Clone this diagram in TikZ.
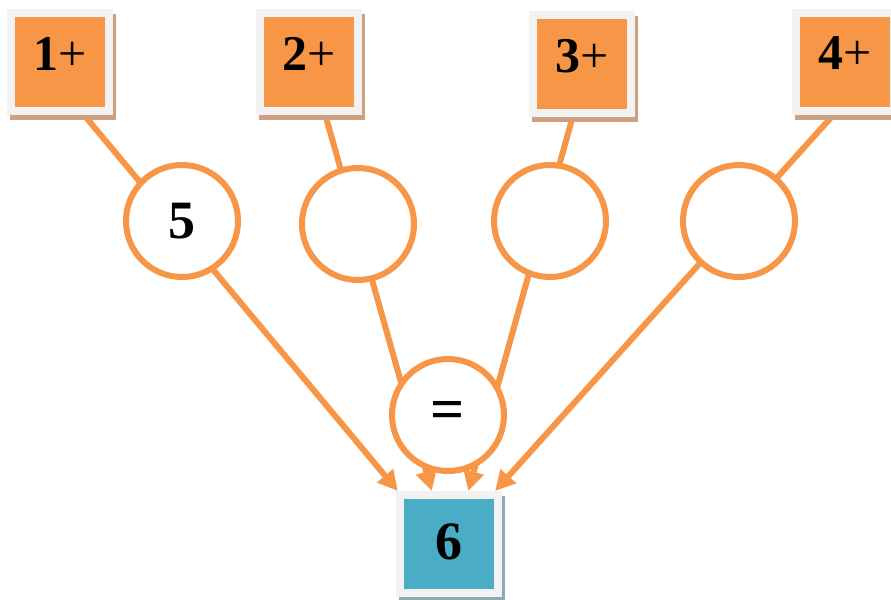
\documentclass[tikz,border=0pt]{standalone}
\usepackage{fontspec}
\setmainfont{Liberation Serif}
\usetikzlibrary{arrows.meta,shadows,backgrounds}
\definecolor{naranja}{HTML}{F79646}
\definecolor{turquesa}{HTML}{4BACC6}
\definecolor{marco}{HTML}{F2F2F2}
\definecolor{sombra}{HTML}{CFA080}
\definecolor{sombraazul}{HTML}{8EAAB2}
\begin{document}
\begin{tikzpicture}[x=0.5pt,y=-0.5pt,
    caja/.style={rectangle, minimum size=49pt, inner sep=0pt, fill=naranja, draw=marco,
      line width=4pt, text depth=8pt, font=\fontsize{25}{30}\selectfont,
      drop shadow={shadow xshift=1.5pt, shadow yshift=-2.5pt, fill=sombra, draw=sombra, opacity=1}},
    circulo/.style={circle, minimum size=56pt, inner sep=0pt, fill=white, draw=naranja,
      line width=3pt, font=\fontsize{27}{32}\selectfont\bfseries},
    flecha/.style={draw=naranja, line width=3pt, -{Triangle[length=10pt,width=10pt]}}]
    \useasboundingbox (0,0) rectangle (891,600);

    % Cajas de arriba
    \node[caja] (caja1) at (60,61.5) {\textbf{1}+};
    \node[caja] (caja2) at (309,61.5) {\textbf{2}+};
    \node[caja] (caja3) at (582,64) {\textbf{3}+};
    \node[caja] (caja4) at (845,61.5) {\textbf{4}+};

    % Resultado
    \node[caja, fill=turquesa, text depth=2pt, font=\fontsize{27}{32}\selectfont\bfseries,
      drop shadow={shadow xshift=1.5pt, shadow yshift=-2.5pt, fill=sombraazul, draw=sombraazul, opacity=1}]
      (res) at (449,544) {6};

    % Flechas
    \begin{scope}[on background layer]
      \draw[flecha] (caja1.-66.7) -- (res.134);
      \draw[flecha] (caja2.-73.4) -- (res.108);
      \draw[flecha] (caja3.-100.7) -- (res.70);
      \draw[flecha] (caja4.-102.6) -- (res.49);
    \end{scope}

    % Circulos
    \node[circulo] (c1) at (182,221) {5};
    \node[circulo] (c2) at (358,224) {};
    \node[circulo] (c3) at (550,221) {};
    \node[circulo] (c4) at (739,221) {};
    \node[circulo, font=\fontsize{30}{34}\selectfont\bfseries] (igual) at (448,415) {=};
\end{tikzpicture}
\end{document}
